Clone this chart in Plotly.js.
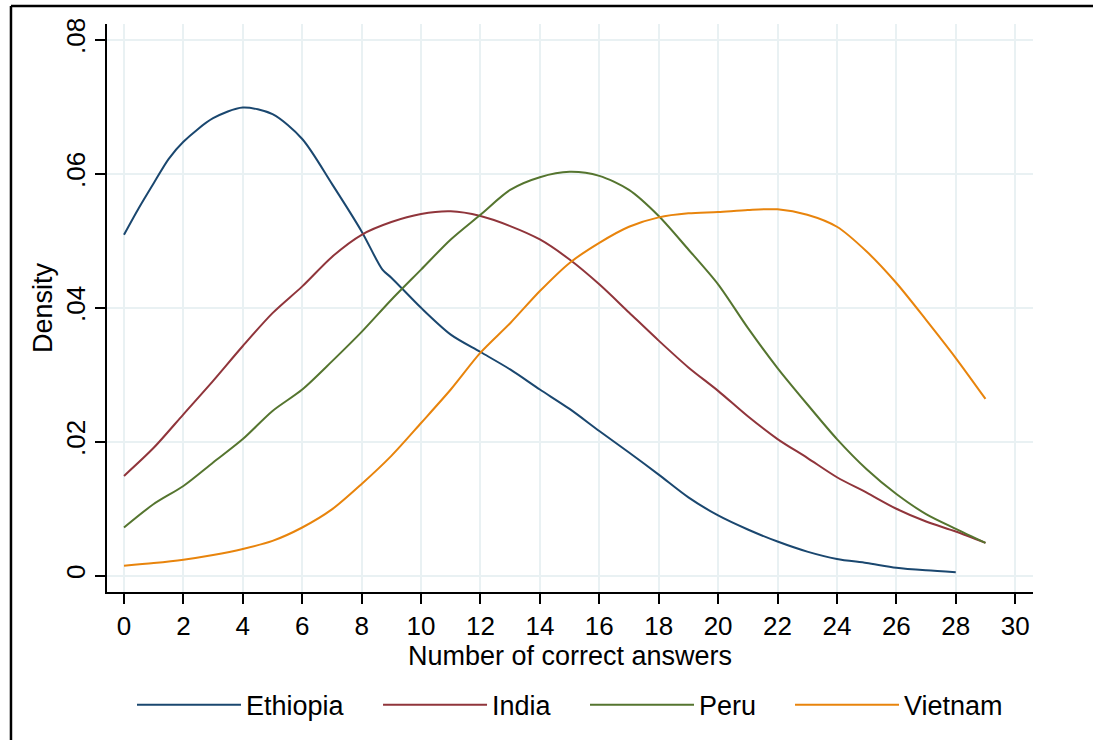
<!DOCTYPE html>
<html>
<head>
<meta charset="utf-8">
<script src="https://cdn.plot.ly/plotly-3.0.1.min.js"></script>
<style>html,body{margin:0;padding:0;background:#fff;}#chart{width:1093px;height:740px;}</style>
</head>
<body>
<div id="chart"></div>
<script>
const countries = ["Ethiopia", "India", "Peru", "Vietnam"];
const colors = ["#1a476f", "#90353b", "#55752f", "#e8840c"];

const xEthiopia = [0,0.5,1,1.5,2,3,4,5,6,7,8,8.7,9,10,11,12,13,14,15,16,17,18,19,20,21,22,23,24,25,26,27,28];
const yEthiopia = [0.0509,0.0549,0.0586,0.0622,0.0648,0.0683,0.0699,0.0689,0.0652,0.0585,0.0514,0.0457,0.0445,0.0400,0.0360,0.0334,0.0308,0.0278,0.0249,0.0216,0.0184,0.0151,0.0117,0.0090,0.0069,0.0051,0.0036,0.0025,0.0019,0.0012,0.0008,0.0005];

const xIndia = [0,1,2,3,4,5,6,7,8,9,10,11,12,13,14,15,16,17,18,19,20,21,22,23,24,25,26,27,28,29];
const yIndia = [0.0149,0.0191,0.0241,0.0291,0.0343,0.0392,0.0432,0.0476,0.0509,0.0528,0.0540,0.0544,0.0537,0.0522,0.0502,0.0472,0.0435,0.0393,0.0351,0.0311,0.0276,0.0238,0.0204,0.0176,0.0147,0.0124,0.0100,0.0081,0.0066,0.0049];

const xPeru = [0,1,2,3,4,5,6,7,8,9,10,11,12,13,14,15,16,17,18,19,20,21,22,23,24,25,26,27,28,29];
const yPeru = [0.0072,0.0107,0.0134,0.0169,0.0204,0.0246,0.0278,0.0320,0.0364,0.0412,0.0457,0.0502,0.0539,0.0576,0.0595,0.0603,0.0597,0.0576,0.0537,0.0487,0.0435,0.0370,0.0310,0.0256,0.0204,0.0159,0.0122,0.0092,0.0070,0.0049];

const xVietnam = [0,1,2,3,4,5,6,7,8,9,10,11,12,13,14,15,16,17,18,19,20,21,22,23,24,25,26,27,28,29];
const yVietnam = [0.0015,0.0019,0.0024,0.0031,0.0040,0.0052,0.0072,0.0099,0.0137,0.0179,0.0228,0.0278,0.0333,0.0377,0.0425,0.0467,0.0497,0.0521,0.0535,0.0541,0.0543,0.0546,0.0547,0.0539,0.0521,0.0484,0.0437,0.0382,0.0325,0.0264];

const xTickVals = [0,2,4,6,8,10,12,14,16,18,20,22,24,26,28,30];
const yTickVals = [0,0.02,0.04,0.06,0.08];
const yTickText = ["0",".02",".04",".06",".08"];

const xs = [xEthiopia, xIndia, xPeru, xVietnam];
const ys = [yEthiopia, yIndia, yPeru, yVietnam];
const legendIds = ["legend", "legend2", "legend3", "legend4"];
const legendX = [0.0270, 0.2927, 0.5162, 0.7376];

const font = "Liberation Sans, Arial, Helvetica, sans-serif";
const grid = "#e9f1f3";

const traces = countries.map((name, i) => ({
  type: "scatter", mode: "lines", name: name, legend: legendIds[i],
  x: xs[i], y: ys[i],
  line: {color: colors[i], width: 2, shape: "spline", smoothing: 0.8}
}));

const layout = {
  width: 1093, height: 740,
  margin: {l: 107, r: 60, t: 24, b: 147},
  paper_bgcolor: "#fff", plot_bgcolor: "#fff",
  font: {family: font, size: 26, color: "#000"},
  showlegend: true,
  xaxis: {
    range: [-0.572, 30.6], tickvals: xTickVals, ticktext: xTickVals.map(String),
    showgrid: true, gridcolor: grid, gridwidth: 2, zeroline: false,
    showline: true, linecolor: "#000", linewidth: 1.5,
    ticks: "outside", ticklen: 10, tickwidth: 1.5, tickcolor: "#000",
    tickfont: {family: font, size: 26, color: "#000"},
    automargin: true,
    title: {text: "Number of correct answers", font: {family: font, size: 27, color: "#000"}, standoff: 0}
  },
  yaxis: {
    range: [-0.00243, 0.08237], tickvals: yTickVals, ticktext: yTickText, tickangle: -90,
    showgrid: true, gridcolor: grid, gridwidth: 2, zeroline: false,
    showline: true, linecolor: "#000", linewidth: 1.5,
    ticks: "outside", ticklen: 10, tickwidth: 1.5, tickcolor: "#000",
    tickfont: {family: font, size: 26, color: "#000"},
    automargin: true,
    title: {text: "Density", font: {family: font, size: 27, color: "#000"}, standoff: 0}
  },
  shapes: [
    {type: "line", xref: "paper", yref: "paper", x0: -0.1037, x1: 1.2, y0: 1.0316, y1: 1.0316, line: {color: "#000", width: 2.5}},
    {type: "line", xref: "paper", yref: "paper", x0: -0.1037, x1: -0.1037, y0: -0.5, y1: 1.0316, line: {color: "#000", width: 2.5}}
  ]
};
legendIds.forEach((id, i) => {
  layout[id] = {orientation: "h", x: legendX[i], xanchor: "left", y: -0.197, yanchor: "middle",
    font: {family: font, size: 27, color: "#000"}, itemwidth: 104, bgcolor: "rgba(0,0,0,0)"};
});

Plotly.newPlot("chart", traces, layout, {displayModeBar: false, responsive: false});
</script>
</body>
</html>
